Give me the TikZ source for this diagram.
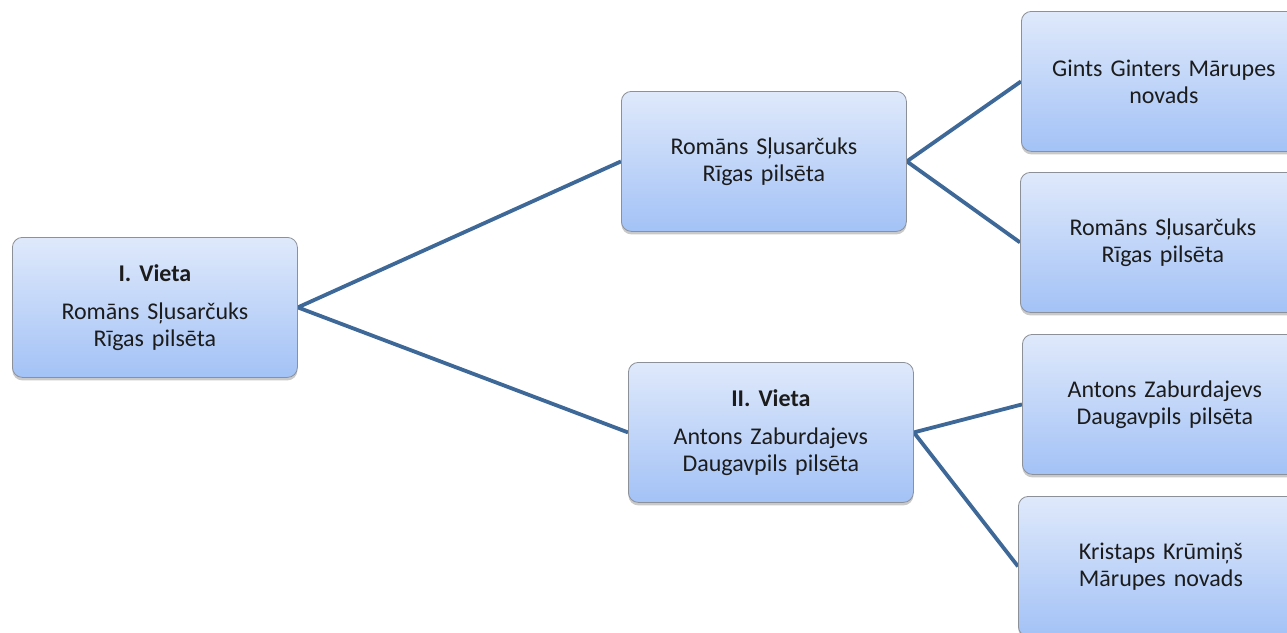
\documentclass[tikz,border=0pt]{standalone}
\usepackage{fontspec}
\setmainfont{Carlito}[WordSpace=0.8]
\usetikzlibrary{shadows,backgrounds}
\definecolor{boxtop}{HTML}{DFE9FB}
\definecolor{boxbot}{HTML}{A3C2F6}
\definecolor{boxedge}{HTML}{8C9098}
\definecolor{linkcol}{HTML}{3E6898}
\definecolor{txt}{HTML}{1C1C1C}
\tikzset{
  box/.style={draw=boxedge, line width=0.8pt, rounded corners=10pt,
    top color=boxtop, bottom color=boxbot,
    minimum width=285pt, minimum height=140pt, anchor=north west,
    text width=280pt, align=center, inner sep=0pt, text=txt,
    font=\fontsize{24}{27}\selectfont,
    drop shadow={shadow xshift=0pt, shadow yshift=-3pt, opacity=0.35, fill=black!60}},
  link/.style={draw=linkcol, line width=3.8pt}
}
\begin{document}
\begin{tikzpicture}[x=1pt,y=-1pt]
\useasboundingbox (0,0) rectangle (1287,632);
\clip (0,0) rectangle (1287,632);
\node[box] (root) at (12,237) {\textbf{I. Vieta}\\[11pt]Romāns Sļusarčuks\\Rīgas pilsēta};
\node[box] (m1) at (621,91) {Romāns Sļusarčuks\\Rīgas pilsēta};
\node[box] (m2) at (628,362) {\textbf{II. Vieta}\\[11pt]Antons Zaburdajevs\\Daugavpils pilsēta};
\node[box] (l1) at (1021,11) {Gints Ginters Mārupes\\novads};
\node[box] (l2) at (1020,172) {Romāns Sļusarčuks\\Rīgas pilsēta};
\node[box] (l3) at (1022,334) {Antons Zaburdajevs\\Daugavpils pilsēta};
\node[box] (l4) at (1018,496) {Kristaps Krūmiņš\\Mārupes novads};
\begin{scope}[on background layer]
\fill[white] (0,0) rectangle (1287,632);
\draw[link] (m1.west) -- (root.east) -- (m2.west);
\draw[link] (l1.west) -- (m1.east) -- (l2.west);
\draw[link] (l3.west) -- (m2.east) -- (l4.west);
\end{scope}
\end{tikzpicture}
\end{document}
